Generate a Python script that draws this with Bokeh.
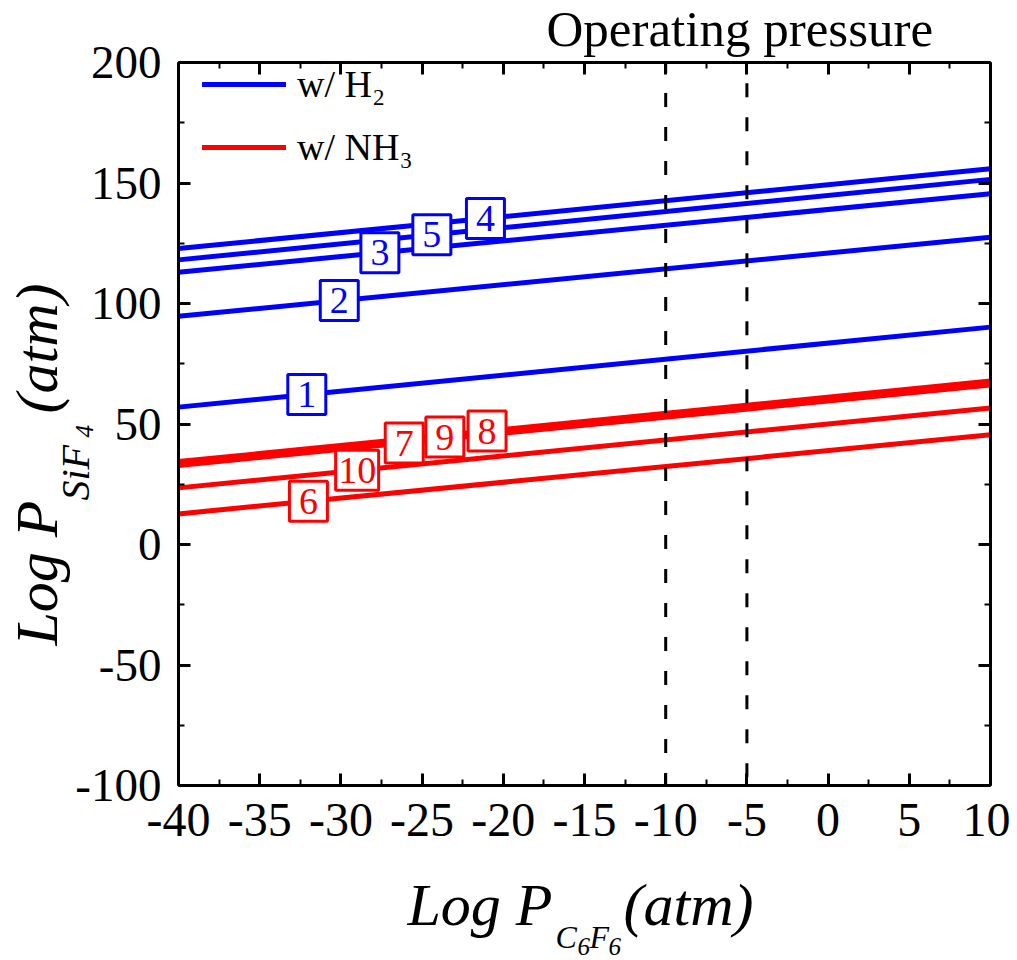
import math
from bokeh.plotting import figure
from bokeh.models import (Range1d, LinearAxis, SingleIntervalTicker, ColumnDataSource)
from bokeh.embed import file_html
from bokeh.resources import INLINE
from bokeh.core.properties import value

# ---------------- data ----------------
x_ends = [-40, 10]                       # Log P(C6F6) range of the lines
h2_ids = ["1", "2", "3", "4", "5"]
h2_start = [57.0, 94.7, 113.0, 122.8, 118.1]   # Log P(SiF4) at x=-40
h2_end = [90.2, 127.5, 145.5, 155.9, 151.5]    # Log P(SiF4) at x=10
h2_label_x = [-32.1, -30.1, -27.6, -21.1, -24.4]

nh3_ids = ["6", "7", "8", "9", "10"]
nh3_start = [12.7, 32.8, 34.4, 33.6, 23.5]
nh3_end = [45.5, 66.2, 67.8, 67.0, 56.6]
nh3_label_x = [-32.0, -26.1, -21.0, -23.6, -29.0]

op_pressure = [-10, -5]                  # operating pressure window
x_lim = [-40, 10]
y_lim = [-100, 200]
x_tick_vals = list(range(-40, 11, 5))
y_tick_vals = list(range(-100, 201, 50))

BLUE = "#0000FF"
RED = "#FF0000"
FONT = "Liberation Serif"

# frame geometry (pixels)
LEFT, TOP, FW, FH = 178, 62, 812, 723
W, H = 1010, 960

p = figure(width=W, height=H, x_range=Range1d(*x_lim), y_range=Range1d(*y_lim),
           output_backend="svg", toolbar_location=None,
           min_border_left=LEFT, min_border_right=W - LEFT - FW, min_border_top=TOP,
           min_border_bottom=H - TOP - FH, x_axis_type=None, y_axis_type=None)
p.xgrid.visible = False
p.ygrid.visible = False
p.outline_line_color = None
p.background_fill_color = "white"
p.border_fill_color = "white"


def style_axis(ax, size):
    ax.axis_line_width = 3
    ax.axis_line_color = "black"
    ax.major_tick_line_width = 3
    ax.minor_tick_line_width = 2
    ax.major_tick_in = 12
    ax.major_tick_out = 0
    ax.minor_tick_in = 6
    ax.minor_tick_out = 0
    ax.major_label_text_font = FONT
    if size:
        ax.major_label_text_font_size = size
        ax.major_label_text_color = "black"
    else:
        ax.major_label_text_font_size = "1px"
        ax.major_label_text_color = None
        ax.major_label_standoff = 0


xt = SingleIntervalTicker(interval=5, num_minor_ticks=2)
yt = SingleIntervalTicker(interval=50, num_minor_ticks=2)
xb = LinearAxis(ticker=xt); style_axis(xb, "48px"); xb.major_label_standoff = 18
xb.major_label_overrides = {v: str(v) for v in x_tick_vals}
xa = LinearAxis(ticker=xt); style_axis(xa, None)
yl = LinearAxis(ticker=yt); style_axis(yl, "47px"); yl.major_label_standoff = 17
yl.major_label_overrides = {v: str(v) for v in y_tick_vals}
yr = LinearAxis(ticker=yt); style_axis(yr, None)
p.add_layout(xb, "below")
p.add_layout(xa, "above")
p.add_layout(yl, "left")
p.add_layout(yr, "right")

# ---------------- lines ----------------
for s, e in zip(h2_start, h2_end):
    p.line(x_ends, [s, e], line_color=BLUE, line_width=5, legend_label="w/ H\u2082")
for s, e in zip(nh3_start, nh3_end):
    p.line(x_ends, [s, e], line_color=RED, line_width=5, legend_label="w/ NH\u2083")

# operating pressure window
p.quad(left=[op_pressure[0]], right=[op_pressure[1]], bottom=[y_lim[0]], top=[y_lim[1]],
       fill_color=None, line_color="black", line_width=3, line_dash="14 20")


# ---------------- line labels ----------------
def on_line(xs, starts, ends):
    return [s + (e - s) * (x - x_ends[0]) / (x_ends[1] - x_ends[0])
            for x, s, e in zip(xs, starts, ends)]


for ids, lx, st, en, col in [(h2_ids, h2_label_x, h2_start, h2_end, BLUE),
                             (nh3_ids, nh3_label_x, nh3_start, nh3_end, RED)]:
    src = ColumnDataSource(dict(x=lx, y=on_line(lx, st, en), t=ids,
                                w=[33 + 5 * len(t) for t in ids]))
    p.rect(x="x", y="y", width="w", height=40, width_units="screen",
           height_units="screen", source=src, fill_color="white",
           line_color=col, line_width=3)
    p.text(x="x", y="y", text="t", source=src, text_align="center",
           text_baseline="middle", text_font=value(FONT), text_font_size="38px",
           text_color=col)

# ---------------- legend ----------------
leg = p.legend[0]
leg.location = (24, 616)
leg.padding = 4
leg.margin = 0
leg.spacing = 19
leg.glyph_width = 84
leg.glyph_height = 42
leg.label_height = 42
leg.label_standoff = 11
leg.label_text_font = FONT
leg.label_text_font_size = "38px"
leg.label_text_color = "black"
leg.background_fill_alpha = 0
leg.border_line_color = None


# ---------------- texts outside the frame ----------------
def px2x(px):
    return x_lim[0] + (px - LEFT) * (x_lim[1] - x_lim[0]) / FW


def py2y(py):
    return y_lim[1] - (py - TOP) * (y_lim[1] - y_lim[0]) / FH


def add_text(px, py, text, size, italic=False, vertical=False):
    # (px, py): start of the baseline in pixels
    off = 0.3375 * size
    if vertical:
        ax_, ay_, ang = px - off, py, math.pi / 2
    else:
        ax_, ay_, ang = px, py - off, 0.0
    p.text(x=[px2x(ax_)], y=[py2y(ay_)], text=[text], text_font=value(FONT),
           text_font_size=f"{size}px", text_font_style="italic" if italic else "normal",
           text_baseline="alphabetic", text_align="left", angle=ang,
           text_color="black", level="overlay")


add_text(546, 46, "Operating pressure", 51)

# x-axis title: Log P_{C6F6}(atm)
add_text(407, 925, "Log P", 60, True)
add_text(555, 947, "C", 32, True)
add_text(577, 954, "6", 25, True)
add_text(589, 947, "F", 32, True)
add_text(608, 954, "6", 25, True)
add_text(623, 925, "(atm)", 60, True)

# y-axis title: Log P_{SiF4}(atm)
add_text(57, 645, "Log P", 60, True, True)
add_text(88, 500, "SiF", 40, True, True)
add_text(92, 437, "4", 25, True, True)
add_text(57, 413, "(atm)", 60, True, True)

open("out.html", "w").write(file_html(p, INLINE))
